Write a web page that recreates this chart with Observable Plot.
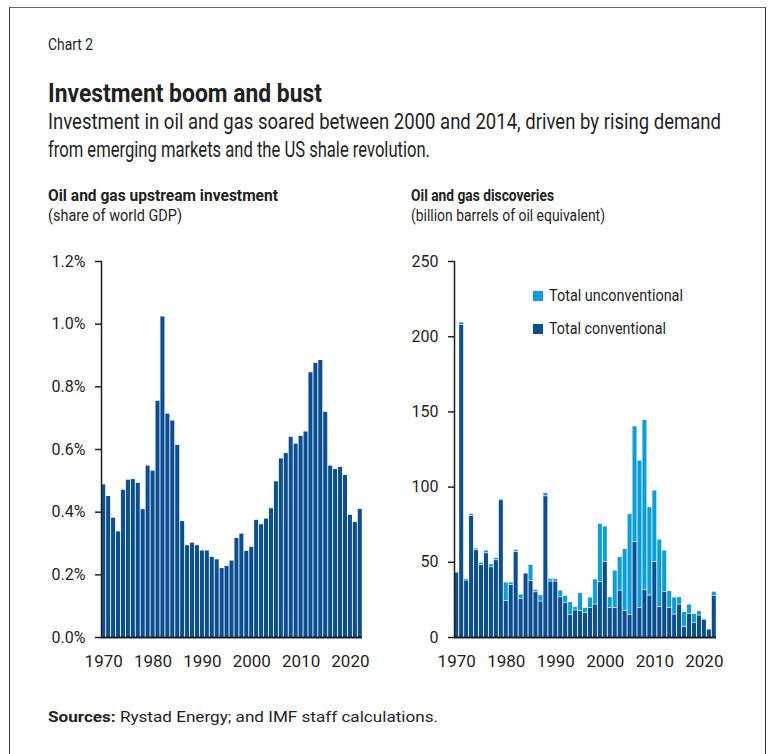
<!DOCTYPE html>
<html><head><meta charset="utf-8">
<script src="https://cdn.jsdelivr.net/npm/d3@7"></script>
<script src="https://cdn.jsdelivr.net/npm/@observablehq/plot@0.6"></script>
<style>
body{margin:0;background:#fff;}
#wrap{position:relative;width:769px;height:754px;overflow:hidden;font-family:Roboto,"Liberation Sans",sans-serif;color:#231f20;}
#box{position:absolute;left:9px;top:7px;width:755px;height:800px;border-left:1.5px solid #333;border-top:1.5px solid #666;border-right:1.5px solid #333;}
.t{position:absolute;white-space:nowrap;line-height:1;transform-origin:0 0;}
.plot{position:absolute;}
.sw{position:absolute;width:10px;height:10px;}
</style></head><body>
<div id="wrap">
  <div id="box"></div>
  <div class="t" data-w="45" style="left:48px;top:37px;font-size:16px">Chart 2</div>
  <div class="t" data-w="274" style="left:48px;top:80px;font-size:26px;font-weight:bold">Investment boom and bust</div>
  <div class="t" data-w="673" style="left:48px;top:111px;font-size:22px">Investment in oil and gas soared between 2000 and 2014, driven by rising demand</div>
  <div class="t" data-w="382" style="left:48px;top:139px;font-size:22px">from emerging markets and the US shale revolution.</div>
  <div class="t" data-w="230" style="left:48px;top:187px;font-size:17px;font-weight:bold">Oil and gas upstream investment</div>
  <div class="t" data-w="134" style="left:48px;top:208px;font-size:16px">(share of world GDP)</div>
  <div class="t" data-w="143" style="left:411px;top:187px;font-size:17px;font-weight:bold">Oil and gas discoveries</div>
  <div class="t" data-w="194" style="left:411px;top:208px;font-size:16px">(billion barrels of oil equivalent)</div>
  <div id="p1" class="plot" style="left:0px;top:240px"></div>
  <div id="p2" class="plot" style="left:384px;top:240px"></div>
  <div class="sw" id="sw1" style="left:533px;top:291px"></div>
  <div class="sw" id="sw2" style="left:533px;top:324px"></div>
  <div class="t" id="leg1" data-w="134" style="left:549px;top:287px;font-size:17px"></div>
  <div class="t" id="leg2" data-w="117" style="left:549px;top:320px;font-size:17px"></div>
  <div class="t" data-w="390" style="left:48px;top:710px;font-size:15px"><b>Sources:</b> Rystad Energy; and IMF staff calculations.</div>
</div>
<script>
const years = d3.range(1970, 2023);
const tickYears = [1970, 1980, 1990, 2000, 2010, 2020];

// Oil and gas upstream investment, % of world GDP
const investment = [
  0.487, 0.450, 0.381, 0.337, 0.470, 0.502, 0.504, 0.492, 0.408, 0.547,
  0.531, 0.754, 1.023, 0.713, 0.691, 0.613, 0.370, 0.293, 0.301, 0.293,
  0.276, 0.276, 0.256, 0.248, 0.220, 0.227, 0.244, 0.316, 0.330, 0.275,
  0.288, 0.374, 0.360, 0.378, 0.411, 0.497, 0.570, 0.587, 0.639, 0.617,
  0.642, 0.656, 0.845, 0.875, 0.884, 0.719, 0.547, 0.536, 0.543, 0.517,
  0.390, 0.367, 0.409
];

// Discoveries, billion barrels of oil equivalent
const conventional = [
  43.4, 208.1, 38.1, 81.0, 58.2, 48.3, 56.2, 46.9, 51.6, 91.5,
  24.6, 35.2, 57.1, 25.9, 42.7, 37.9, 30.3, 24.1, 94.1, 37.4,
  37.4, 27.0, 23.3, 15.3, 18.2, 17.7, 16.4, 19.9, 22.1, 37.2,
  50.5, 19.9, 19.9, 31.4, 17.9, 15.3, 63.8, 19.9, 31.9, 28.1,
  50.5, 20.6, 30.6, 19.9, 15.5, 22.1, 7.1, 15.9, 10.0, 14.8,
  12.0, 5.5, 27.9
];
const unconventional = [
  0.0, 1.6, 1.1, 1.4, 1.1, 1.7, 1.8, 2.0, 1.5, 0.8,
  12.2, 1.6, 1.4, 2.9, 0.3, 10.6, 1.6, 4.2, 2.2, 1.8,
  1.8, 4.4, 4.6, 8.4, 2.2, 12.0, 3.5, 6.9, 16.7, 38.5,
  23.5, 7.1, 24.8, 22.2, 41.2, 66.9, 76.8, 97.9, 112.9, 58.7,
  47.4, 44.7, 27.4, 11.1, 11.3, 4.9, 10.0, 6.2, 5.9, 2.9,
  0.6, 0.0, 2.7
];

const seriesNames = ["Total conventional", "Total unconventional"];
const dark = "#0b4f93";
const light = "#0a9fdc";
const fontStack = 'Roboto,"Liberation Sans",sans-serif';

const invData = years.map((year, i) => ({year, value: investment[i]}));
const discData = years.flatMap((year, i) => [
  {year, type: seriesNames[0], value: conventional[i]},
  {year, type: seriesNames[1], value: unconventional[i]}
]);

const yAxisText = {fontSize: 16, letterSpacing: "-0.3px"};
const xAxisText = {fontSize: 17, letterSpacing: "-1px"};

const left = Plot.plot({
  width: 384, height: 440,
  marginLeft: 101, marginRight: 22, marginTop: 21, marginBottom: 43,
  style: {fontFamily: fontStack, color: "#231f20", background: "transparent"},
  x: {type: "band", domain: years, paddingInner: 0.18, paddingOuter: 0.04},
  y: {domain: [0, 1.2]},
  marks: [
    Plot.barY(invData, {x: "year", y: "value", fill: dark}),
    Plot.axisY({ticks: [0, 0.2, 0.4, 0.6, 0.8, 1.0, 1.2], tickSize: 6, tickPadding: 10,
      tickFormat: d => d.toFixed(1) + "%", ...yAxisText, label: null, strokeWidth: 1.5}),
    Plot.axisX({ticks: tickYears, tickSize: 0, tickPadding: 17, tickFormat: d => String(d),
      ...xAxisText, label: null}),
    Plot.frame({anchor: "left", strokeWidth: 1.5}),
    Plot.ruleY([0], {strokeWidth: 2})
  ]
});
document.getElementById("p1").appendChild(left);

const right = Plot.plot({
  width: 385, height: 440,
  marginLeft: 70, marginRight: 53, marginTop: 21, marginBottom: 43,
  style: {fontFamily: fontStack, color: "#231f20", background: "transparent"},
  x: {type: "band", domain: years, paddingInner: 0.18, paddingOuter: 0.04},
  y: {domain: [0, 250]},
  color: {domain: seriesNames, range: [dark, light]},
  marks: [
    Plot.barY(discData, {x: "year", y: "value", fill: "type", order: seriesNames, insetTop: 0.7}),
    Plot.axisY({ticks: [0, 50, 100, 150, 200, 250], tickSize: 6, tickPadding: 10,
      ...yAxisText, label: null, strokeWidth: 1.5}),
    Plot.axisX({ticks: tickYears, tickSize: 0, tickPadding: 17, tickFormat: d => String(d),
      ...xAxisText, label: null}),
    Plot.frame({anchor: "left", strokeWidth: 1.5}),
    Plot.ruleY([0], {strokeWidth: 2})
  ]
});
document.getElementById("p2").appendChild(right);

document.getElementById("sw1").style.background = light;
document.getElementById("sw2").style.background = dark;
document.getElementById("leg1").textContent = seriesNames[1];
document.getElementById("leg2").textContent = seriesNames[0];

// condense HTML texts horizontally to the reference's narrow typeface widths
document.querySelectorAll(".t[data-w]").forEach(el => {
  const w = el.getBoundingClientRect().width;
  const target = +el.dataset.w;
  if (w > 0) el.style.transform = `scaleX(${target / w})`;
});
</script>
</body></html>
